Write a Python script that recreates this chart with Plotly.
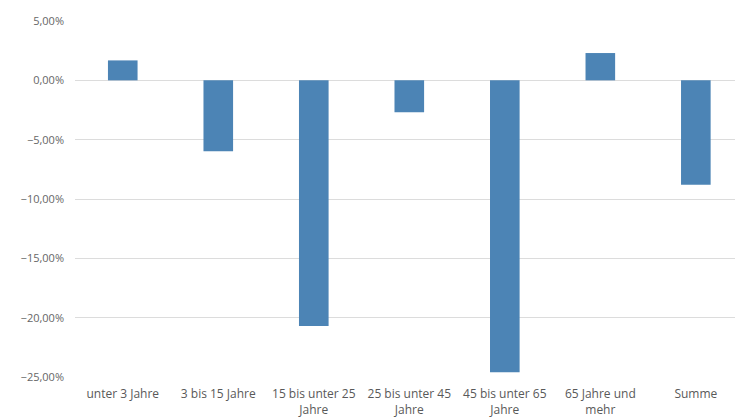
import plotly.graph_objects as go

# Age groups and relative change
categories = [
    "unter 3 Jahre",
    "3 bis 15 Jahre",
    "15 bis unter 25<br>Jahre",
    "25 bis unter 45<br>Jahre",
    "45 bis unter 65<br>Jahre",
    "65 Jahre und<br>mehr",
    "Summe",
]
change = [0.0168, -0.0598, -0.207, -0.027, -0.246, 0.023, -0.088]

y_ticks = [0.05, 0.0, -0.05, -0.10, -0.15, -0.20, -0.25]

fig = go.Figure(
    go.Bar(
        x=list(range(len(categories))),
        y=change,
        width=0.31,
        marker=dict(color="#4c84b5", line=dict(width=0)),
    )
)

font_family = "Open Sans, Lato, sans-serif"

fig.update_layout(
    width=735,
    height=419,
    margin=dict(l=75, r=0, t=21, b=42),
    paper_bgcolor="white",
    plot_bgcolor="white",
    separators=",.",
    showlegend=False,
    font=dict(family=font_family, size=11, color="#595959"),
    xaxis=dict(
        tickmode="array",
        tickvals=list(range(len(categories))),
        ticktext=categories,
        range=[-0.5, 6.41],
        showgrid=False,
        showline=False,
        zeroline=False,
        ticks="",
        ticklabelstandoff=8,
        tickfont=dict(size=12, color="#595959"),
    ),
    yaxis=dict(
        range=[-0.25, 0.05],
        tickmode="array",
        tickvals=y_ticks,
        tickformat=".2%",
        showgrid=True,
        gridcolor="#dcdcdc",
        gridwidth=1,
        zeroline=False,
        showline=False,
        ticks="",
        ticklabelstandoff=10,
        tickfont=dict(size=11, color="#666666"),
    ),
)

fig.write_html("out.html")
